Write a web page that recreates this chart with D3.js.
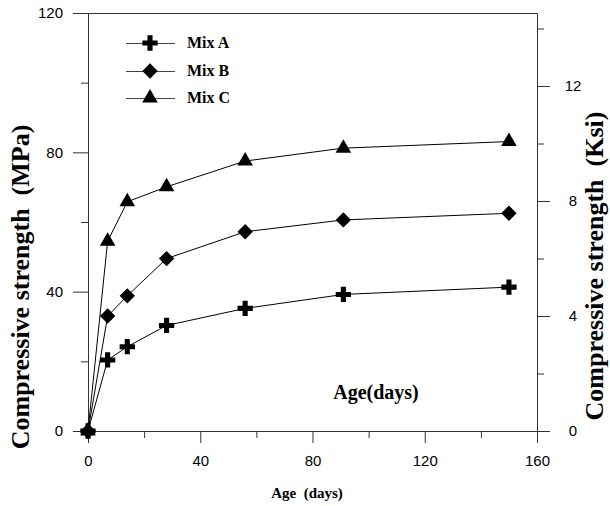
<!DOCTYPE html>
<html>
<head>
<meta charset="utf-8">
<script src="https://cdn.jsdelivr.net/npm/d3@7"></script>
<style>
  body { margin: 0; background: #fff; }
  .tick text { font-family: "Liberation Sans", Arial, sans-serif; font-size: 15px; fill: #000; }
  .ttl { font-family: "Liberation Serif", "Times New Roman", serif; font-weight: bold; fill: #000; white-space: pre; }
</style>
</head>
<body>
<div id="chart"></div>
<script>
// data
const ages = [0, 7, 14, 28, 56, 91, 150];
const mixA = [0, 20.4, 24.2, 30.3, 35.2, 39.2, 41.3];
const mixB = [0, 33.0, 38.8, 49.5, 57.2, 60.6, 62.5];
const mixC = [0, 54.5, 65.8, 70.1, 77.5, 81.2, 83.1];
const seriesNames = ["Mix A", "Mix B", "Mix C"];

const xTicks = [0, 40, 80, 120, 160];
const xMinor = [20, 60, 100, 140];
const mpaTicks = [0, 40, 80, 120];
const mpaMinor = [20, 60, 100];
const ksiTicks = [0, 4, 8, 12];
const ksiMinor = [2, 6, 10, 14];

let svgWidth = 610;
let svgHeight = 506;

let svg = d3.select("#chart")
  .append("svg")
  .attr("width", svgWidth)
  .attr("height", svgHeight);

let x = d3.scaleLinear().domain([0, 160]).range([88, 537]);
let y = d3.scaleLinear().domain([0, 120]).range([431, 13]);
let yKsi = d3.scaleLinear().domain([0, 14.54]).range([431, 13]);

const axisColor = "#333";

function styleAxis(g) {
  g.selectAll("path, line").attr("stroke", axisColor);
}

// left axis (MPa)
svg.append("g")
  .attr("transform", `translate(${x(0)},0)`)
  .call(d3.axisLeft(y).tickValues(mpaTicks).tickSize(15).tickSizeOuter(0).tickPadding(10))
  .call(styleAxis);
svg.append("g")
  .attr("transform", `translate(${x(0)},0)`)
  .call(d3.axisLeft(y).tickValues(mpaMinor).tickSize(7).tickFormat(""))
  .call(g => g.select(".domain").remove())
  .call(styleAxis);

// bottom axis
svg.append("g")
  .attr("transform", `translate(0,${y(0)})`)
  .call(d3.axisBottom(x).tickValues(xTicks).tickSize(12).tickSizeOuter(0).tickPadding(12))
  .call(styleAxis);
svg.append("g")
  .attr("transform", `translate(0,${y(0)})`)
  .call(d3.axisBottom(x).tickValues(xMinor).tickSize(7).tickFormat(""))
  .call(g => g.select(".domain").remove())
  .call(styleAxis);

// right axis (Ksi)
let right = svg.append("g")
  .attr("transform", `translate(${x(160)},0)`)
  .call(d3.axisRight(yKsi).tickValues(ksiTicks).tickSize(13).tickSizeOuter(0).tickPadding(23))
  .call(styleAxis);
right.selectAll(".tick text").attr("text-anchor", "middle");
svg.append("g")
  .attr("transform", `translate(${x(160)},0)`)
  .call(d3.axisRight(yKsi).tickValues(ksiMinor).tickSize(7).tickFormat(""))
  .call(g => g.select(".domain").remove())
  .call(styleAxis);

// top frame line
svg.append("line")
  .attr("x1", x(0) - 15).attr("x2", x(160) + 0.5)
  .attr("y1", y(120) + 0.5).attr("y2", y(120) + 0.5)
  .attr("stroke", axisColor);

// series
const series = [mixA, mixB, mixC].map((vals, i) => ({
  name: seriesNames[i],
  points: ages.map((a, j) => ({ age: a, v: vals[j] }))
}));

const symbols = [
  d3.symbol().type(d3.symbolCross).size(130),
  d3.symbol().type(d3.symbolSquare).size(118),
  d3.symbol().type(d3.symbolTriangle).size(105)
];
const rot = [0, 45, 0];

let line = d3.line().x(d => x(d.age)).y(d => y(d.v));

let plot = svg.append("g");
series.forEach((s, i) => {
  plot.append("path")
    .datum(s.points)
    .attr("d", line)
    .attr("fill", "none")
    .attr("stroke", "#000")
    .attr("stroke-width", 1);
});
series.forEach((s, i) => {
  plot.selectAll(null)
    .data(s.points)
    .enter()
    .append("path")
    .attr("d", symbols[i])
    .attr("transform", d => `translate(${x(d.age)},${y(d.v)}) rotate(${rot[i]})`)
    .attr("fill", "#000");
});

// legend
let legend = svg.append("g");
const legendY = [43, 71, 98];
series.forEach((s, i) => {
  let row = legend.append("g").attr("transform", `translate(0,${legendY[i]})`);
  row.append("line")
    .attr("x1", 126).attr("x2", 175).attr("y1", 0.5).attr("y2", 0.5)
    .attr("stroke", "#444");
  row.append("path")
    .attr("d", symbols[i])
    .attr("transform", `translate(150,0) rotate(${rot[i]})`)
    .attr("fill", "#000");
  row.append("text")
    .attr("class", "ttl")
    .attr("x", 187)
    .attr("y", 5)
    .attr("font-size", "16px")
    .text(s.name);
});

// titles
svg.append("text")
  .attr("class", "ttl")
  .attr("transform", "translate(29,287) rotate(-90)")
  .attr("text-anchor", "middle")
  .attr("font-size", "26px")
  .text("Compressive strength  (MPa)");

svg.append("text")
  .attr("class", "ttl")
  .attr("transform", "translate(603,266) rotate(-90)")
  .attr("text-anchor", "middle")
  .attr("font-size", "26px")
  .text("Compressive strength  (Ksi)");

svg.append("text")
  .attr("class", "ttl")
  .attr("x", 376).attr("y", 399)
  .attr("text-anchor", "middle")
  .attr("font-size", "20px")
  .text("Age(days)");

svg.append("text")
  .attr("class", "ttl")
  .attr("x", 307).attr("y", 498)
  .attr("text-anchor", "middle")
  .attr("font-size", "15px")
  .text("Age  (days)");
</script>
</body>
</html>
